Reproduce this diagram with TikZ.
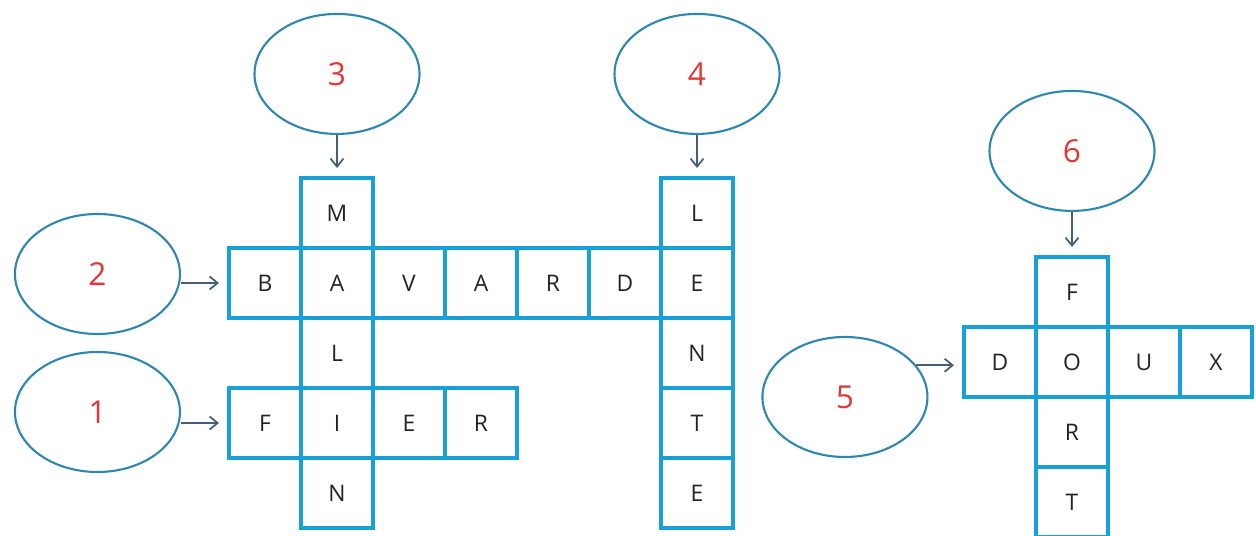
\documentclass[tikz,border=0pt]{standalone}
\usepackage{fontspec}
\setmainfont{Open Sans}
\usetikzlibrary{arrows.meta,positioning,shapes.geometric}

\definecolor{cellblue}{RGB}{25,160,215}
\definecolor{ringblue}{RGB}{45,135,175}
\definecolor{numred}{RGB}{225,55,55}
\definecolor{arrowgray}{RGB}{70,95,120}
\definecolor{lettergray}{RGB}{35,35,35}

\begin{document}
\begin{tikzpicture}[
    node distance=0pt and 0pt,
    cell/.style={draw=cellblue, line width=2pt, rectangle, inner sep=0pt, outer sep=0pt,
      minimum width=1.44cm, minimum height=1.40cm, text=lettergray, font=\fontsize{13}{15}\selectfont},
    clue/.style={draw=ringblue, line width=1.2pt, ellipse, inner sep=0pt,
      minimum width=3.3cm, minimum height=2.4cm, text=numred, font=\fontsize{18}{20}\selectfont},
    arrow/.style={-{Straight Barb[length=1.6mm, width=2.6mm]}, arrowgray, line width=1pt, shorten >=2mm}
  ]
    \useasboundingbox (0,0) rectangle (25.12,10.72);

    % BAVARDE
    \node[cell] (bav1) at (5.30,5.06) {B};
    \node[cell, right=of bav1] (bav2) {A};
    \node[cell, right=of bav2] (bav3) {V};
    \node[cell, right=of bav3] (bav4) {A};
    \node[cell, right=of bav4] (bav5) {R};
    \node[cell, right=of bav5] (bav6) {D};
    \node[cell, right=of bav6] (bav7) {E};

    % MALIN
    \node[cell, above=of bav2] (mal1) {M};
    \node[cell, below=of bav2] (mal3) {L};
    \node[cell, below=of mal3] (mal4) {I};
    \node[cell, below=of mal4] (mal5) {N};

    % FIER
    \node[cell, left=of mal4] (fier1) {F};
    \node[cell, right=of mal4] (fier3) {E};
    \node[cell, right=of fier3] (fier4) {R};

    % LENTE
    \node[cell, above=of bav7] (len1) {L};
    \node[cell, below=of bav7] (len3) {N};
    \node[cell, below=of len3] (len4) {T};
    \node[cell, below=of len4] (len5) {E};

    % DOUX
    \node[cell] (doux2) at (21.44,3.48) {O};
    \node[cell, left=of doux2] (doux1) {D};
    \node[cell, right=of doux2] (doux3) {U};
    \node[cell, right=of doux3] (doux4) {X};

    % FORT
    \node[cell, above=of doux2] (fort1) {F};
    \node[cell, below=of doux2] (fort3) {R};
    \node[cell, below=of fort3] (fort4) {T};

    % clues
    \node[clue, left=0.96cm of bav1, yshift=0.18cm] (c2) {2};
    \node[clue, left=0.96cm of fier1, yshift=0.22cm] (c1) {1};
    \node[clue, above=0.86cm of mal1] (c3) {3};
    \node[clue, above=0.86cm of len1] (c4) {4};
    \node[clue, above=0.9cm of fort1] (c6) {6};
    \node[clue, left=0.71cm of doux1, yshift=-0.7cm] (c5) {5};

    \draw[arrow] (c2.east |- bav1.west) -- (bav1.west);
    \draw[arrow] (c1.east |- fier1.west) -- (fier1.west);
    \draw[arrow] (c3) -- (mal1);
    \draw[arrow] (c4) -- (len1);
    \draw[arrow] (c6) -- (fort1);
    \draw[arrow] (c5.24) -- (c5.24 -| doux1.west);
\end{tikzpicture}
\end{document}
